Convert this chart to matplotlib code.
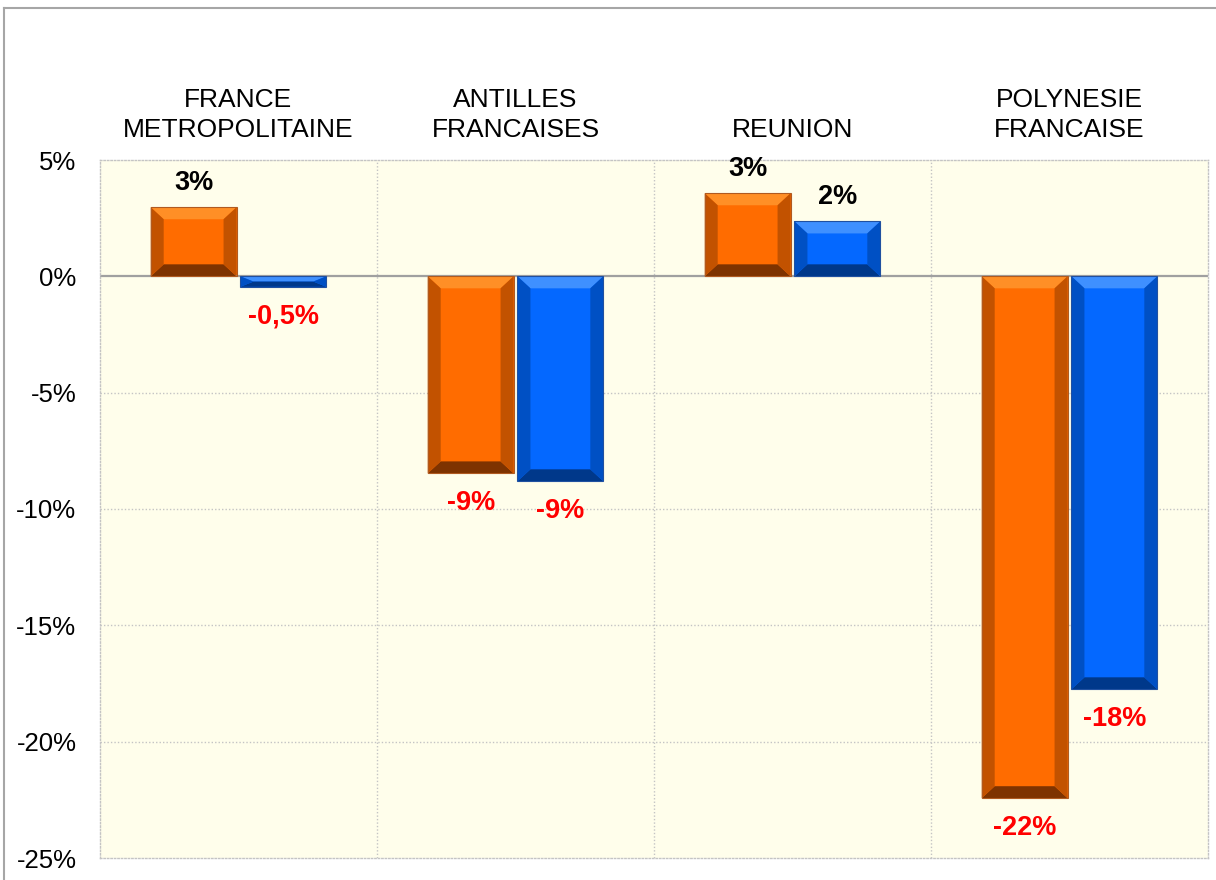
import matplotlib.pyplot as plt
import matplotlib.transforms as mtransforms
from matplotlib.patches import Polygon
from matplotlib.lines import Line2D
import numpy as np

plt.rcParams["font.family"] = ["Liberation Sans", "DejaVu Sans"]

categories = ["FRANCE\nMETROPOLITAINE", "ANTILLES\nFRANCAISES", "REUNION", "POLYNESIE\nFRANCAISE"]
orange_values = [2.97, -8.47, 3.57, -22.43]
blue_values = [-0.45, -8.81, 2.36, -17.75]
orange_labels = ["3%", "-9%", "3%", "-22%"]
blue_labels = ["-0,5%", "-9%", "2%", "-18%"]
y_ticks = [5, 0, -5, -10, -15, -20, -25]

ORANGE = {"face": "#FF6C00", "top": "#FF8F26", "side": "#C25200", "bottom": "#7E3300", "edge": "#B05A20"}
BLUE = {"face": "#0468FF", "top": "#3F90FF", "side": "#0050C4", "bottom": "#00388A", "edge": "#2050A0"}


def bevel(ax, rect, colors, bx, by):
    # fake the 3D "bevel" look of the original bars
    x, w = rect.get_x(), rect.get_width()
    y0 = min(rect.get_y(), rect.get_y() + rect.get_height())
    h = abs(rect.get_height())
    dy = min(by, h / 2)
    dx = min(bx, w / 2)
    x1, y1 = x + w, y0 + h
    shapes = [
        ([(x, y1), (x1, y1), (x1 - dx, y1 - dy), (x + dx, y1 - dy)], colors["top"]),
        ([(x, y0), (x1, y0), (x1 - dx, y0 + dy), (x + dx, y0 + dy)], colors["bottom"]),
        ([(x, y0), (x + dx, y0 + dy), (x + dx, y1 - dy), (x, y1)], colors["side"]),
        ([(x1, y0), (x1 - dx, y0 + dy), (x1 - dx, y1 - dy), (x1, y1)], colors["side"]),
    ]
    for pts, c in shapes:
        ax.add_patch(Polygon(pts, closed=True, facecolor=c, edgecolor="none", zorder=3))
    ax.add_patch(Polygon([(x, y0), (x1, y0), (x1, y1), (x, y1)], closed=True,
                         facecolor="none", edgecolor=colors["edge"], lw=0.8, zorder=4))


fig = plt.figure(figsize=(12.16, 8.8), dpi=100)
ax = fig.add_axes([100 / 1216, 22 / 880, 1108 / 1216, 698 / 880])
ax.set_facecolor("#FFFEEB")

x = np.arange(len(categories))
width = 0.31
bars_o = ax.bar(x - 0.162, orange_values, width, color=ORANGE["face"], zorder=2)
bars_b = ax.bar(x + 0.162, blue_values, width, color=BLUE["face"], zorder=2)

ax.set_xlim(-0.5, len(categories) - 0.5)
ax.set_ylim(-25, 5)

bx = 13 / 277
by = 12 / (698 / 30)
for rect in bars_o:
    bevel(ax, rect, ORANGE, bx, by)
for rect in bars_b:
    bevel(ax, rect, BLUE, bx, by)

for bars, vals, labels in [(bars_o, orange_values, orange_labels), (bars_b, blue_values, blue_labels)]:
    for rect, v, lab in zip(bars, vals, labels):
        cx = rect.get_x() + rect.get_width() / 2
        if v >= 0:
            ax.annotate(lab, (cx, v), xytext=(0, 8), textcoords="offset points",
                        ha="center", va="bottom", fontsize=19.5, fontweight="bold", color="black", zorder=5)
        else:
            ax.annotate(lab, (cx, v), xytext=(0, -12), textcoords="offset points",
                        ha="center", va="top", fontsize=19.5, fontweight="bold", color="#FF0000", zorder=5)

ax.axhline(0, color="#A0A0A0", lw=1.6, zorder=2.5)

ax.set_yticks(y_ticks)
ax.set_yticklabels([f"{t}%" for t in y_ticks], fontsize=18.5)
ax.tick_params(axis="y", length=0, pad=17)
ax.set_xticks([])
grid_style = dict(color="#C4C4C4", lw=1, ls=(0, (1, 1.5)), zorder=1)
for t in y_ticks:
    if t not in (0, 5, -25):
        ax.axhline(t, **grid_style)
for b in np.arange(0.5, len(categories) - 1, 1):
    ax.axvline(b, **grid_style)
for s in ax.spines.values():
    s.set_color("#C4C4C4")
    s.set_linewidth(1)
    s.set_linestyle((0, (1, 1.5)))

label_tr = mtransforms.blended_transform_factory(ax.transData, fig.transFigure)
for i, cat in enumerate(categories):
    ax.text(i, 1 - 137 / 880, cat, transform=label_tr, ha="center", va="baseline",
            fontsize=19, linespacing=1.3, multialignment="center")

fig.add_artist(Line2D([4 / 1216, 4 / 1216], [0, 1 - 8 / 880], color="#A6A6A6", lw=1.5))
fig.add_artist(Line2D([4 / 1216, 1], [1 - 8 / 880, 1 - 8 / 880], color="#A6A6A6", lw=1.5))

fig.savefig("out.png", dpi=100)
